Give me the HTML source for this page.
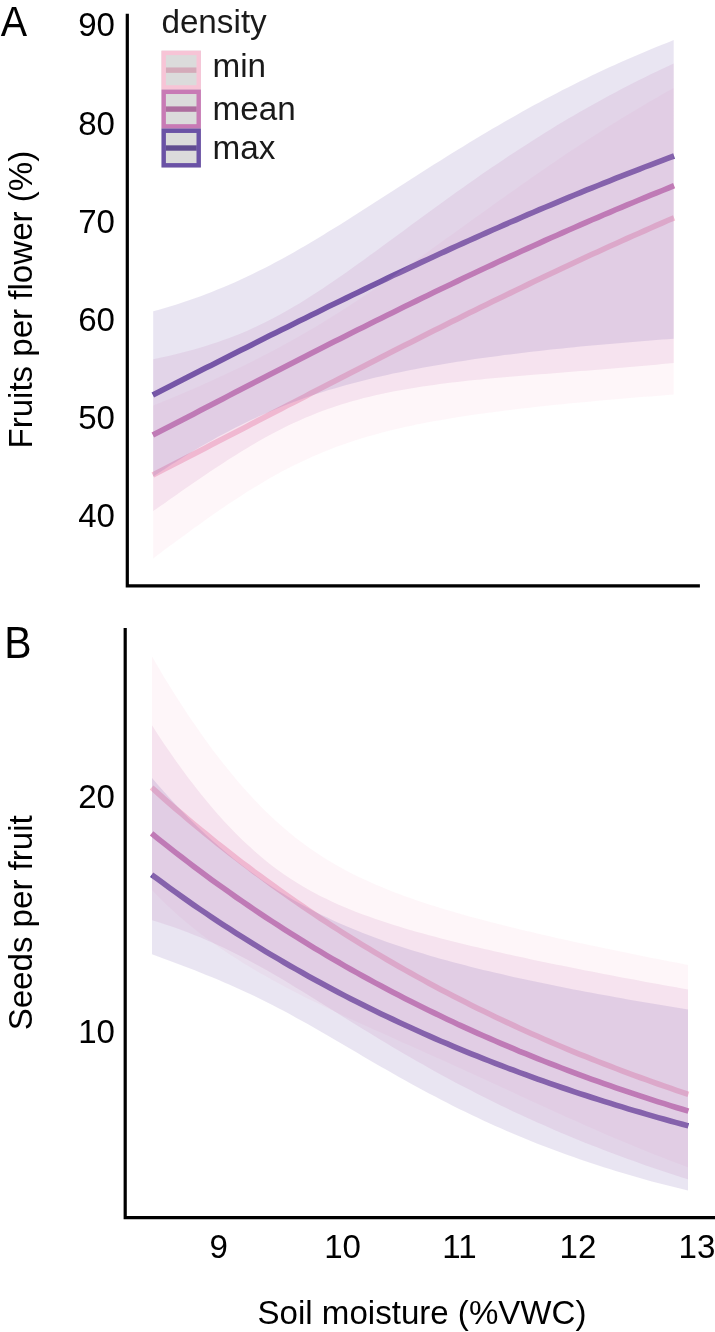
<!DOCTYPE html>
<html><head><meta charset="utf-8"><title>Figure</title>
<style>
html,body{margin:0;padding:0;background:#fff;}
body{width:715px;height:1332px;overflow:hidden;}
svg{display:block;font-family:"Liberation Sans",sans-serif;will-change:transform;}
</style></head><body>
<svg width="715" height="1332" viewBox="0 0 715 1332">
<rect width="715" height="1332" fill="#fff"/>
<path d="M152.8,474.9 L158.7,471.9 L164.5,469.0 L170.4,465.9 L176.2,462.9 L182.1,459.9 L187.9,456.9 L193.8,453.9 L199.7,450.9 L205.5,447.9 L211.4,444.8 L217.2,441.8 L223.1,438.8 L228.9,435.8 L234.8,432.7 L240.7,429.7 L246.5,426.7 L252.4,423.6 L258.2,420.6 L264.1,417.6 L269.9,414.5 L275.8,411.5 L281.7,408.5 L287.5,405.4 L293.4,402.4 L299.2,399.4 L305.1,396.4 L310.9,393.3 L316.8,390.3 L322.7,387.3 L328.5,384.3 L334.4,381.3 L340.2,378.2 L346.1,375.2 L351.9,372.2 L357.8,369.2 L363.7,366.2 L369.5,363.2 L375.4,360.2 L381.2,357.2 L387.1,354.3 L392.9,351.3 L398.8,348.3 L404.7,345.3 L410.5,342.4 L416.4,339.4 L422.2,336.5 L428.1,333.5 L434.0,330.6 L439.8,327.7 L445.7,324.7 L451.5,321.8 L457.4,318.9 L463.2,316.0 L469.1,313.1 L475.0,310.2 L480.8,307.3 L486.7,304.5 L492.5,301.6 L498.4,298.7 L504.2,295.9 L510.1,293.1 L516.0,290.2 L521.8,287.4 L527.7,284.6 L533.5,281.8 L539.4,279.0 L545.2,276.2 L551.1,273.5 L557.0,270.7 L562.8,267.9 L568.7,265.2 L574.5,262.5 L580.4,259.7 L586.2,257.0 L592.1,254.3 L598.0,251.7 L603.8,249.0 L609.7,246.3 L615.5,243.7 L621.4,241.0 L627.2,238.4 L633.1,235.8 L639.0,233.2 L644.8,230.6 L650.7,228.0 L656.5,225.4 L662.4,222.9 L668.2,220.3 L674.1,217.8" fill="none" stroke="#F7C4D6" stroke-opacity="1.0" stroke-width="5.6" stroke-linecap="butt"/>
<path d="M152.8,435.1 L158.7,432.1 L164.5,429.1 L170.4,426.0 L176.2,423.0 L182.1,419.9 L187.9,416.9 L193.8,413.9 L199.7,410.8 L205.5,407.8 L211.4,404.8 L217.2,401.7 L223.1,398.7 L228.9,395.6 L234.8,392.6 L240.7,389.6 L246.5,386.6 L252.4,383.5 L258.2,380.5 L264.1,377.5 L269.9,374.5 L275.8,371.5 L281.7,368.5 L287.5,365.5 L293.4,362.5 L299.2,359.5 L305.1,356.5 L310.9,353.5 L316.8,350.5 L322.7,347.6 L328.5,344.6 L334.4,341.6 L340.2,338.7 L346.1,335.7 L351.9,332.8 L357.8,329.8 L363.7,326.9 L369.5,324.0 L375.4,321.1 L381.2,318.2 L387.1,315.3 L392.9,312.4 L398.8,309.5 L404.7,306.6 L410.5,303.7 L416.4,300.9 L422.2,298.0 L428.1,295.2 L434.0,292.3 L439.8,289.5 L445.7,286.7 L451.5,283.9 L457.4,281.1 L463.2,278.3 L469.1,275.5 L475.0,272.8 L480.8,270.0 L486.7,267.3 L492.5,264.6 L498.4,261.8 L504.2,259.1 L510.1,256.4 L516.0,253.7 L521.8,251.0 L527.7,248.4 L533.5,245.7 L539.4,243.1 L545.2,240.4 L551.1,237.8 L557.0,235.2 L562.8,232.6 L568.7,230.0 L574.5,227.5 L580.4,224.9 L586.2,222.4 L592.1,219.8 L598.0,217.3 L603.8,214.8 L609.7,212.3 L615.5,209.8 L621.4,207.4 L627.2,204.9 L633.1,202.5 L639.0,200.0 L644.8,197.6 L650.7,195.2 L656.5,192.8 L662.4,190.5 L668.2,188.1 L674.1,185.7" fill="none" stroke="#C87AB5" stroke-opacity="1.0" stroke-width="5.6" stroke-linecap="butt"/>
<path d="M152.8,395.0 L158.7,392.0 L164.5,389.1 L170.4,386.1 L176.2,383.1 L182.1,380.1 L187.9,377.1 L193.8,374.1 L199.7,371.1 L205.5,368.1 L211.4,365.2 L217.2,362.2 L223.1,359.2 L228.9,356.3 L234.8,353.3 L240.7,350.3 L246.5,347.4 L252.4,344.4 L258.2,341.5 L264.1,338.6 L269.9,335.6 L275.8,332.7 L281.7,329.8 L287.5,326.9 L293.4,324.0 L299.2,321.1 L305.1,318.2 L310.9,315.3 L316.8,312.4 L322.7,309.5 L328.5,306.6 L334.4,303.8 L340.2,300.9 L346.1,298.1 L351.9,295.3 L357.8,292.4 L363.7,289.6 L369.5,286.8 L375.4,284.0 L381.2,281.2 L387.1,278.4 L392.9,275.6 L398.8,272.9 L404.7,270.1 L410.5,267.4 L416.4,264.6 L422.2,261.9 L428.1,259.2 L434.0,256.5 L439.8,253.8 L445.7,251.1 L451.5,248.4 L457.4,245.8 L463.2,243.1 L469.1,240.5 L475.0,237.9 L480.8,235.2 L486.7,232.6 L492.5,230.0 L498.4,227.5 L504.2,224.9 L510.1,222.3 L516.0,219.8 L521.8,217.2 L527.7,214.7 L533.5,212.2 L539.4,209.7 L545.2,207.2 L551.1,204.8 L557.0,202.3 L562.8,199.9 L568.7,197.4 L574.5,195.0 L580.4,192.6 L586.2,190.2 L592.1,187.8 L598.0,185.5 L603.8,183.1 L609.7,180.8 L615.5,178.4 L621.4,176.1 L627.2,173.8 L633.1,171.6 L639.0,169.3 L644.8,167.0 L650.7,164.8 L656.5,162.6 L662.4,160.3 L668.2,158.1 L674.1,156.0" fill="none" stroke="#6A52A5" stroke-opacity="1.0" stroke-width="5.6" stroke-linecap="butt"/>
<path d="M153.2,405.6 L159.0,403.2 L164.9,400.8 L170.7,398.4 L176.6,395.9 L182.4,393.4 L188.3,390.9 L194.1,388.4 L200.0,385.9 L205.8,383.3 L211.7,380.7 L217.5,378.0 L223.4,375.3 L229.2,372.6 L235.1,369.8 L240.9,367.0 L246.8,364.2 L252.6,361.3 L258.5,358.3 L264.3,355.3 L270.2,352.3 L276.0,349.2 L281.9,346.0 L287.7,342.8 L293.6,339.5 L299.4,336.2 L305.3,332.8 L311.1,329.4 L317.0,325.9 L322.8,322.4 L328.6,318.8 L334.5,315.2 L340.3,311.5 L346.2,307.8 L352.0,304.0 L357.9,300.2 L363.7,296.3 L369.6,292.4 L375.4,288.5 L381.3,284.5 L387.1,280.5 L393.0,276.4 L398.8,272.4 L404.7,268.3 L410.5,264.2 L416.4,260.0 L422.2,255.9 L428.1,251.7 L433.9,247.5 L439.8,243.3 L445.6,239.1 L451.5,234.9 L457.3,230.7 L463.2,226.5 L469.0,222.3 L474.9,218.1 L480.7,213.9 L486.6,209.7 L492.4,205.5 L498.3,201.3 L504.1,197.2 L509.9,193.0 L515.8,188.9 L521.6,184.8 L527.5,180.7 L533.3,176.6 L539.2,172.5 L545.0,168.5 L550.9,164.5 L556.7,160.5 L562.6,156.6 L568.4,152.6 L574.3,148.7 L580.1,144.9 L586.0,141.1 L591.8,137.3 L597.7,133.5 L603.5,129.8 L609.4,126.1 L615.2,122.4 L621.1,118.8 L626.9,115.2 L632.8,111.7 L638.6,108.2 L644.5,104.7 L650.3,101.3 L656.2,97.9 L662.0,94.5 L667.9,91.2 L673.7,88.0 L673.7,394.5 L667.9,395.0 L662.0,395.4 L656.2,395.9 L650.3,396.4 L644.5,396.8 L638.6,397.3 L632.8,397.8 L626.9,398.3 L621.1,398.8 L615.2,399.3 L609.4,399.8 L603.5,400.3 L597.7,400.8 L591.8,401.4 L586.0,401.9 L580.1,402.5 L574.3,403.0 L568.4,403.6 L562.6,404.2 L556.7,404.7 L550.9,405.3 L545.0,406.0 L539.2,406.6 L533.3,407.2 L527.5,407.9 L521.6,408.5 L515.8,409.2 L509.9,409.9 L504.1,410.7 L498.3,411.4 L492.4,412.2 L486.6,412.9 L480.7,413.7 L474.9,414.6 L469.0,415.4 L463.2,416.3 L457.3,417.2 L451.5,418.2 L445.6,419.2 L439.8,420.2 L433.9,421.2 L428.1,422.3 L422.2,423.4 L416.4,424.6 L410.5,425.9 L404.7,427.1 L398.8,428.5 L393.0,429.8 L387.1,431.3 L381.3,432.8 L375.4,434.4 L369.6,436.0 L363.7,437.8 L357.9,439.6 L352.0,441.4 L346.2,443.4 L340.3,445.5 L334.5,447.6 L328.6,449.9 L322.8,452.2 L317.0,454.7 L311.1,457.2 L305.3,459.9 L299.4,462.7 L293.6,465.5 L287.7,468.5 L281.9,471.6 L276.0,474.8 L270.2,478.1 L264.3,481.4 L258.5,484.9 L252.6,488.5 L246.8,492.1 L240.9,495.9 L235.1,499.7 L229.2,503.6 L223.4,507.5 L217.5,511.5 L211.7,515.6 L205.8,519.7 L200.0,523.9 L194.1,528.1 L188.3,532.4 L182.4,536.7 L176.6,541.0 L170.7,545.3 L164.9,549.6 L159.0,554.0 L153.2,558.4Z" fill="#F7C4D6" fill-opacity="0.15"/>
<path d="M153.2,359.2 L159.0,357.9 L164.9,356.7 L170.7,355.4 L176.6,354.0 L182.4,352.5 L188.3,351.0 L194.1,349.4 L200.0,347.7 L205.8,346.0 L211.7,344.1 L217.5,342.2 L223.4,340.1 L229.2,338.0 L235.1,335.7 L240.9,333.4 L246.8,330.9 L252.6,328.3 L258.5,325.6 L264.3,322.7 L270.2,319.8 L276.0,316.7 L281.9,313.5 L287.7,310.2 L293.6,306.8 L299.4,303.4 L305.3,299.8 L311.1,296.1 L317.0,292.3 L322.8,288.4 L328.6,284.5 L334.5,280.5 L340.3,276.5 L346.2,272.4 L352.0,268.3 L357.9,264.1 L363.7,259.9 L369.6,255.6 L375.4,251.4 L381.3,247.1 L387.1,242.8 L393.0,238.5 L398.8,234.2 L404.7,229.9 L410.5,225.6 L416.4,221.3 L422.2,217.0 L428.1,212.7 L433.9,208.4 L439.8,204.2 L445.6,200.0 L451.5,195.8 L457.3,191.6 L463.2,187.4 L469.0,183.3 L474.9,179.2 L480.7,175.1 L486.6,171.1 L492.4,167.1 L498.3,163.2 L504.1,159.2 L509.9,155.3 L515.8,151.5 L521.6,147.7 L527.5,143.9 L533.3,140.2 L539.2,136.5 L545.0,132.8 L550.9,129.2 L556.7,125.6 L562.6,122.1 L568.4,118.6 L574.3,115.2 L580.1,111.8 L586.0,108.5 L591.8,105.2 L597.7,101.9 L603.5,98.7 L609.4,95.5 L615.2,92.4 L621.1,89.3 L626.9,86.2 L632.8,83.2 L638.6,80.3 L644.5,77.4 L650.3,74.5 L656.2,71.7 L662.0,68.9 L667.9,66.2 L673.7,63.5 L673.7,362.9 L667.9,363.5 L662.0,364.1 L656.2,364.7 L650.3,365.2 L644.5,365.8 L638.6,366.3 L632.8,366.8 L626.9,367.3 L621.1,367.8 L615.2,368.3 L609.4,368.8 L603.5,369.3 L597.7,369.7 L591.8,370.2 L586.0,370.7 L580.1,371.1 L574.3,371.6 L568.4,372.0 L562.6,372.5 L556.7,372.9 L550.9,373.4 L545.0,373.9 L539.2,374.3 L533.3,374.8 L527.5,375.3 L521.6,375.7 L515.8,376.2 L509.9,376.7 L504.1,377.2 L498.3,377.8 L492.4,378.3 L486.6,378.8 L480.7,379.4 L474.9,380.0 L469.0,380.6 L463.2,381.3 L457.3,381.9 L451.5,382.6 L445.6,383.3 L439.8,384.1 L433.9,384.9 L428.1,385.7 L422.2,386.5 L416.4,387.4 L410.5,388.4 L404.7,389.4 L398.8,390.5 L393.0,391.6 L387.1,392.7 L381.3,394.0 L375.4,395.3 L369.6,396.7 L363.7,398.1 L357.9,399.7 L352.0,401.3 L346.2,403.0 L340.3,404.8 L334.5,406.7 L328.6,408.7 L322.8,410.8 L317.0,413.0 L311.1,415.4 L305.3,417.8 L299.4,420.4 L293.6,423.0 L287.7,425.8 L281.9,428.7 L276.0,431.7 L270.2,434.8 L264.3,438.0 L258.5,441.3 L252.6,444.7 L246.8,448.2 L240.9,451.7 L235.1,455.4 L229.2,459.1 L223.4,462.9 L217.5,466.7 L211.7,470.6 L205.8,474.6 L200.0,478.5 L194.1,482.5 L188.3,486.6 L182.4,490.6 L176.6,494.7 L170.7,498.8 L164.9,502.9 L159.0,507.0 L153.2,511.1Z" fill="#C87AB5" fill-opacity="0.15"/>
<path d="M153.2,311.3 L159.0,309.7 L164.9,308.0 L170.7,306.2 L176.6,304.4 L182.4,302.5 L188.3,300.5 L194.1,298.5 L200.0,296.4 L205.8,294.2 L211.7,291.9 L217.5,289.6 L223.4,287.2 L229.2,284.7 L235.1,282.2 L240.9,279.5 L246.8,276.8 L252.6,274.0 L258.5,271.1 L264.3,268.2 L270.2,265.2 L276.0,262.1 L281.9,258.9 L287.7,255.7 L293.6,252.4 L299.4,249.1 L305.3,245.7 L311.1,242.2 L317.0,238.7 L322.8,235.2 L328.6,231.6 L334.5,228.0 L340.3,224.4 L346.2,220.7 L352.0,217.0 L357.9,213.3 L363.7,209.5 L369.6,205.8 L375.4,202.0 L381.3,198.3 L387.1,194.5 L393.0,190.7 L398.8,187.0 L404.7,183.2 L410.5,179.5 L416.4,175.7 L422.2,172.0 L428.1,168.3 L433.9,164.6 L439.8,160.9 L445.6,157.2 L451.5,153.6 L457.3,150.0 L463.2,146.4 L469.0,142.8 L474.9,139.3 L480.7,135.8 L486.6,132.3 L492.4,128.8 L498.3,125.4 L504.1,122.0 L509.9,118.7 L515.8,115.4 L521.6,112.1 L527.5,108.8 L533.3,105.6 L539.2,102.5 L545.0,99.3 L550.9,96.2 L556.7,93.2 L562.6,90.1 L568.4,87.2 L574.3,84.2 L580.1,81.3 L586.0,78.4 L591.8,75.6 L597.7,72.8 L603.5,70.1 L609.4,67.3 L615.2,64.7 L621.1,62.0 L626.9,59.4 L632.8,56.9 L638.6,54.4 L644.5,51.9 L650.3,49.5 L656.2,47.0 L662.0,44.7 L667.9,42.4 L673.7,40.1 L673.7,338.8 L667.9,339.2 L662.0,339.6 L656.2,340.1 L650.3,340.5 L644.5,341.0 L638.6,341.4 L632.8,341.9 L626.9,342.4 L621.1,342.9 L615.2,343.4 L609.4,343.9 L603.5,344.4 L597.7,344.9 L591.8,345.5 L586.0,346.0 L580.1,346.6 L574.3,347.2 L568.4,347.8 L562.6,348.4 L556.7,349.0 L550.9,349.6 L545.0,350.2 L539.2,350.9 L533.3,351.6 L527.5,352.2 L521.6,352.9 L515.8,353.7 L509.9,354.4 L504.1,355.1 L498.3,355.9 L492.4,356.7 L486.6,357.5 L480.7,358.3 L474.9,359.1 L469.0,360.0 L463.2,360.9 L457.3,361.8 L451.5,362.7 L445.6,363.7 L439.8,364.7 L433.9,365.7 L428.1,366.7 L422.2,367.8 L416.4,368.9 L410.5,370.0 L404.7,371.2 L398.8,372.4 L393.0,373.6 L387.1,374.9 L381.3,376.2 L375.4,377.6 L369.6,379.0 L363.7,380.4 L357.9,381.9 L352.0,383.4 L346.2,385.0 L340.3,386.7 L334.5,388.4 L328.6,390.1 L322.8,392.0 L317.0,393.8 L311.1,395.8 L305.3,397.8 L299.4,399.9 L293.6,402.1 L287.7,404.3 L281.9,406.6 L276.0,409.0 L270.2,411.4 L264.3,414.0 L258.5,416.6 L252.6,419.3 L246.8,422.0 L240.9,424.9 L235.1,427.8 L229.2,430.9 L223.4,433.9 L217.5,437.1 L211.7,440.4 L205.8,443.7 L200.0,447.1 L194.1,450.6 L188.3,454.1 L182.4,457.7 L176.6,461.4 L170.7,465.1 L164.9,468.9 L159.0,472.7 L153.2,476.6Z" fill="#6A52A5" fill-opacity="0.15"/>
<path d="M127.3,13.7 V585.8 H699.9" fill="none" stroke="#000" stroke-width="3.2" stroke-linejoin="miter" stroke-linecap="butt"/>
<text x="115.0" y="36.35" font-size="33.1" text-anchor="end" fill="#000" >90</text>
<text x="115.0" y="134.5" font-size="33.1" text-anchor="end" fill="#000" >80</text>
<text x="115.0" y="232.6" font-size="33.1" text-anchor="end" fill="#000" >70</text>
<text x="115.0" y="330.7" font-size="33.1" text-anchor="end" fill="#000" >60</text>
<text x="115.0" y="428.9" font-size="33.1" text-anchor="end" fill="#000" >50</text>
<text x="115.0" y="527.0" font-size="33.1" text-anchor="end" fill="#000" >40</text>
<text x="0" y="0" font-size="33.1" text-anchor="middle" fill="#000" transform="translate(32.3,299.7) rotate(-90)">Fruits per flower (%)</text>
<text x="0" y="0" font-size="39.5" text-anchor="start" fill="#000" transform="translate(0.7,36.0) scale(1,1.095)">A</text>
<text x="161.4" y="33.2" font-size="33.25" text-anchor="start" fill="#1a1a1a" >density</text>
<path d="M165.6,70.165 H196.8" stroke="#F7C4D6" stroke-width="5.4"/>
<rect x="161.5" y="50.7" width="39.4" height="38.93" fill="#333333" fill-opacity="0.175"/>
<rect x="163.7" y="52.900000000000006" width="35.0" height="34.53" fill="none" stroke="#F7C4D6" stroke-width="4.4"/>
<text x="212.5" y="77.3" font-size="33.25" text-anchor="start" fill="#1a1a1a" >min</text>
<path d="M165.6,109.095 H196.8" stroke="#C87AB5" stroke-width="5.4"/>
<rect x="161.5" y="89.63" width="39.4" height="38.93" fill="#333333" fill-opacity="0.175"/>
<rect x="163.7" y="91.83" width="35.0" height="34.53" fill="none" stroke="#C87AB5" stroke-width="4.4"/>
<text x="212.5" y="119.7" font-size="33.25" text-anchor="start" fill="#1a1a1a" >mean</text>
<path d="M165.6,148.025 H196.8" stroke="#6A52A5" stroke-width="5.4"/>
<rect x="161.5" y="128.56" width="39.4" height="38.93" fill="#333333" fill-opacity="0.175"/>
<rect x="163.7" y="130.76" width="35.0" height="34.53" fill="none" stroke="#6A52A5" stroke-width="4.4"/>
<text x="212.5" y="158.5" font-size="33.25" text-anchor="start" fill="#1a1a1a" >max</text>
<path d="M151.6,787.5 L157.6,792.9 L163.7,798.3 L169.7,803.6 L175.7,808.8 L181.8,813.9 L187.8,819.1 L193.8,824.1 L199.9,829.1 L205.9,834.0 L211.9,838.9 L217.9,843.8 L224.0,848.5 L230.0,853.3 L236.0,857.9 L242.1,862.6 L248.1,867.1 L254.1,871.7 L260.2,876.1 L266.2,880.6 L272.2,884.9 L278.3,889.3 L284.3,893.5 L290.3,897.8 L296.4,902.0 L302.4,906.1 L308.4,910.2 L314.4,914.3 L320.5,918.3 L326.5,922.2 L332.5,926.1 L338.6,930.0 L344.6,933.8 L350.6,937.6 L356.7,941.4 L362.7,945.1 L368.7,948.7 L374.8,952.4 L380.8,955.9 L386.8,959.5 L392.9,963.0 L398.9,966.5 L404.9,969.9 L411.0,973.3 L417.0,976.6 L423.0,979.9 L429.0,983.2 L435.1,986.5 L441.1,989.7 L447.1,992.8 L453.2,996.0 L459.2,999.1 L465.2,1002.1 L471.3,1005.2 L477.3,1008.2 L483.3,1011.1 L489.4,1014.0 L495.4,1016.9 L501.4,1019.8 L507.5,1022.6 L513.5,1025.4 L519.5,1028.2 L525.6,1031.0 L531.6,1033.7 L537.6,1036.3 L543.6,1039.0 L549.7,1041.6 L555.7,1044.2 L561.7,1046.8 L567.8,1049.3 L573.8,1051.8 L579.8,1054.3 L585.9,1056.7 L591.9,1059.1 L597.9,1061.5 L604.0,1063.9 L610.0,1066.2 L616.0,1068.5 L622.1,1070.8 L628.1,1073.1 L634.1,1075.3 L640.1,1077.5 L646.2,1079.7 L652.2,1081.9 L658.2,1084.0 L664.3,1086.1 L670.3,1088.2 L676.3,1090.3 L682.4,1092.3 L688.4,1094.4" fill="none" stroke="#F7C4D6" stroke-opacity="1.0" stroke-width="5.6" stroke-linecap="butt"/>
<path d="M151.6,833.4 L157.6,838.3 L163.7,843.1 L169.7,847.9 L175.7,852.6 L181.8,857.3 L187.8,861.9 L193.8,866.5 L199.9,871.0 L205.9,875.4 L211.9,879.9 L217.9,884.2 L224.0,888.6 L230.0,892.8 L236.0,897.1 L242.1,901.3 L248.1,905.4 L254.1,909.5 L260.2,913.6 L266.2,917.6 L272.2,921.5 L278.3,925.4 L284.3,929.3 L290.3,933.1 L296.4,936.9 L302.4,940.7 L308.4,944.4 L314.4,948.1 L320.5,951.7 L326.5,955.3 L332.5,958.8 L338.6,962.3 L344.6,965.8 L350.6,969.2 L356.7,972.6 L362.7,976.0 L368.7,979.3 L374.8,982.6 L380.8,985.8 L386.8,989.0 L392.9,992.2 L398.9,995.3 L404.9,998.4 L411.0,1001.5 L417.0,1004.5 L423.0,1007.5 L429.0,1010.5 L435.1,1013.4 L441.1,1016.3 L447.1,1019.2 L453.2,1022.0 L459.2,1024.9 L465.2,1027.6 L471.3,1030.4 L477.3,1033.1 L483.3,1035.8 L489.4,1038.4 L495.4,1041.0 L501.4,1043.6 L507.5,1046.2 L513.5,1048.7 L519.5,1051.3 L525.6,1053.7 L531.6,1056.2 L537.6,1058.6 L543.6,1061.0 L549.7,1063.4 L555.7,1065.7 L561.7,1068.0 L567.8,1070.3 L573.8,1072.6 L579.8,1074.9 L585.9,1077.1 L591.9,1079.3 L597.9,1081.4 L604.0,1083.6 L610.0,1085.7 L616.0,1087.8 L622.1,1089.9 L628.1,1091.9 L634.1,1093.9 L640.1,1095.9 L646.2,1097.9 L652.2,1099.9 L658.2,1101.8 L664.3,1103.7 L670.3,1105.6 L676.3,1107.5 L682.4,1109.3 L688.4,1111.2" fill="none" stroke="#C87AB5" stroke-opacity="1.0" stroke-width="5.6" stroke-linecap="butt"/>
<path d="M151.6,874.7 L157.6,879.1 L163.7,883.6 L169.7,888.0 L175.7,892.3 L181.8,896.6 L187.8,900.9 L193.8,905.1 L199.9,909.2 L205.9,913.3 L211.9,917.3 L217.9,921.4 L224.0,925.3 L230.0,929.2 L236.0,933.1 L242.1,936.9 L248.1,940.7 L254.1,944.4 L260.2,948.1 L266.2,951.8 L272.2,955.4 L278.3,958.9 L284.3,962.5 L290.3,966.0 L296.4,969.4 L302.4,972.8 L308.4,976.2 L314.4,979.5 L320.5,982.8 L326.5,986.0 L332.5,989.2 L338.6,992.4 L344.6,995.6 L350.6,998.7 L356.7,1001.7 L362.7,1004.8 L368.7,1007.8 L374.8,1010.7 L380.8,1013.7 L386.8,1016.6 L392.9,1019.4 L398.9,1022.2 L404.9,1025.0 L411.0,1027.8 L417.0,1030.5 L423.0,1033.2 L429.0,1035.9 L435.1,1038.6 L441.1,1041.2 L447.1,1043.7 L453.2,1046.3 L459.2,1048.8 L465.2,1051.3 L471.3,1053.8 L477.3,1056.2 L483.3,1058.6 L489.4,1061.0 L495.4,1063.3 L501.4,1065.7 L507.5,1068.0 L513.5,1070.2 L519.5,1072.5 L525.6,1074.7 L531.6,1076.9 L537.6,1079.1 L543.6,1081.2 L549.7,1083.3 L555.7,1085.4 L561.7,1087.5 L567.8,1089.5 L573.8,1091.6 L579.8,1093.6 L585.9,1095.5 L591.9,1097.5 L597.9,1099.4 L604.0,1101.3 L610.0,1103.2 L616.0,1105.1 L622.1,1106.9 L628.1,1108.8 L634.1,1110.6 L640.1,1112.3 L646.2,1114.1 L652.2,1115.9 L658.2,1117.6 L664.3,1119.3 L670.3,1121.0 L676.3,1122.6 L682.4,1124.3 L688.4,1125.9" fill="none" stroke="#6A52A5" stroke-opacity="1.0" stroke-width="5.6" stroke-linecap="butt"/>
<path d="M152.0,656.5 L158.0,666.8 L164.0,676.9 L170.1,686.8 L176.1,696.4 L182.1,705.8 L188.1,714.9 L194.2,723.8 L200.2,732.5 L206.2,741.0 L212.2,749.2 L218.2,757.1 L224.3,764.8 L230.3,772.3 L236.3,779.5 L242.3,786.5 L248.4,793.2 L254.4,799.7 L260.4,806.0 L266.4,812.0 L272.4,817.7 L278.5,823.2 L284.5,828.5 L290.5,833.6 L296.5,838.4 L302.6,843.0 L308.6,847.4 L314.6,851.6 L320.6,855.6 L326.7,859.4 L332.7,863.0 L338.7,866.5 L344.7,869.8 L350.7,872.9 L356.8,875.9 L362.8,878.8 L368.8,881.6 L374.8,884.3 L380.9,886.8 L386.9,889.3 L392.9,891.7 L398.9,894.0 L404.9,896.2 L411.0,898.3 L417.0,900.4 L423.0,902.4 L429.0,904.4 L435.1,906.3 L441.1,908.2 L447.1,910.0 L453.1,911.8 L459.1,913.5 L465.2,915.2 L471.2,916.9 L477.2,918.5 L483.2,920.1 L489.3,921.7 L495.3,923.3 L501.3,924.8 L507.3,926.3 L513.3,927.8 L519.4,929.2 L525.4,930.7 L531.4,932.1 L537.4,933.5 L543.5,934.9 L549.5,936.3 L555.5,937.7 L561.5,939.0 L567.6,940.3 L573.6,941.7 L579.6,943.0 L585.6,944.3 L591.6,945.5 L597.7,946.8 L603.7,948.1 L609.7,949.3 L615.7,950.6 L621.8,951.8 L627.8,953.1 L633.8,954.3 L639.8,955.5 L645.8,956.7 L651.9,957.9 L657.9,959.1 L663.9,960.3 L669.9,961.4 L676.0,962.6 L682.0,963.8 L688.0,964.9 L688.0,1167.2 L682.0,1165.0 L676.0,1162.7 L669.9,1160.4 L663.9,1158.1 L657.9,1155.8 L651.9,1153.4 L645.8,1151.0 L639.8,1148.6 L633.8,1146.1 L627.8,1143.6 L621.8,1141.1 L615.7,1138.6 L609.7,1136.0 L603.7,1133.4 L597.7,1130.8 L591.6,1128.1 L585.6,1125.5 L579.6,1122.8 L573.6,1120.1 L567.6,1117.4 L561.5,1114.7 L555.5,1112.0 L549.5,1109.2 L543.5,1106.5 L537.4,1103.7 L531.4,1101.0 L525.4,1098.2 L519.4,1095.4 L513.3,1092.6 L507.3,1089.8 L501.3,1087.1 L495.3,1084.3 L489.3,1081.5 L483.2,1078.8 L477.2,1076.0 L471.2,1073.2 L465.2,1070.5 L459.1,1067.8 L453.1,1065.0 L447.1,1062.3 L441.1,1059.6 L435.1,1056.9 L429.0,1054.2 L423.0,1051.5 L417.0,1048.8 L411.0,1046.1 L404.9,1043.4 L398.9,1040.7 L392.9,1038.0 L386.9,1035.3 L380.9,1032.6 L374.8,1029.9 L368.8,1027.2 L362.8,1024.5 L356.8,1021.7 L350.7,1018.9 L344.7,1016.2 L338.7,1013.4 L332.7,1010.5 L326.7,1007.7 L320.6,1004.8 L314.6,1001.8 L308.6,998.9 L302.6,995.9 L296.5,992.8 L290.5,989.7 L284.5,986.5 L278.5,983.3 L272.4,980.0 L266.4,976.6 L260.4,973.2 L254.4,969.7 L248.4,966.1 L242.3,962.4 L236.3,958.6 L230.3,954.7 L224.3,950.7 L218.2,946.6 L212.2,942.3 L206.2,937.9 L200.2,933.4 L194.2,928.7 L188.1,923.8 L182.1,918.7 L176.1,913.5 L170.1,908.0 L164.0,902.3 L158.0,896.3 L152.0,890.1Z" fill="#F7C4D6" fill-opacity="0.15"/>
<path d="M152.0,725.3 L158.0,734.7 L164.0,743.7 L170.1,752.6 L176.1,761.2 L182.1,769.5 L188.1,777.7 L194.2,785.6 L200.2,793.2 L206.2,800.6 L212.2,807.8 L218.2,814.7 L224.3,821.4 L230.3,827.8 L236.3,834.0 L242.3,839.9 L248.4,845.6 L254.4,851.1 L260.4,856.3 L266.4,861.2 L272.4,865.9 L278.5,870.4 L284.5,874.7 L290.5,878.7 L296.5,882.6 L302.6,886.3 L308.6,889.7 L314.6,893.0 L320.6,896.2 L326.7,899.1 L332.7,902.0 L338.7,904.7 L344.7,907.3 L350.7,909.8 L356.8,912.2 L362.8,914.4 L368.8,916.6 L374.8,918.8 L380.9,920.8 L386.9,922.8 L392.9,924.7 L398.9,926.6 L404.9,928.4 L411.0,930.2 L417.0,931.9 L423.0,933.6 L429.0,935.2 L435.1,936.8 L441.1,938.4 L447.1,940.0 L453.1,941.5 L459.1,943.0 L465.2,944.5 L471.2,945.9 L477.2,947.3 L483.2,948.7 L489.3,950.1 L495.3,951.5 L501.3,952.8 L507.3,954.2 L513.3,955.5 L519.4,956.8 L525.4,958.1 L531.4,959.4 L537.4,960.7 L543.5,961.9 L549.5,963.2 L555.5,964.4 L561.5,965.6 L567.6,966.8 L573.6,968.0 L579.6,969.2 L585.6,970.4 L591.6,971.6 L597.7,972.8 L603.7,973.9 L609.7,975.1 L615.7,976.2 L621.8,977.4 L627.8,978.5 L633.8,979.6 L639.8,980.7 L645.8,981.9 L651.9,983.0 L657.9,984.1 L663.9,985.2 L669.9,986.3 L676.0,987.3 L682.0,988.4 L688.0,989.5 L688.0,1179.3 L682.0,1177.4 L676.0,1175.5 L669.9,1173.5 L663.9,1171.5 L657.9,1169.5 L651.9,1167.5 L645.8,1165.4 L639.8,1163.3 L633.8,1161.1 L627.8,1159.0 L621.8,1156.8 L615.7,1154.5 L609.7,1152.3 L603.7,1150.0 L597.7,1147.6 L591.6,1145.3 L585.6,1142.9 L579.6,1140.5 L573.6,1138.0 L567.6,1135.5 L561.5,1133.0 L555.5,1130.4 L549.5,1127.8 L543.5,1125.1 L537.4,1122.5 L531.4,1119.8 L525.4,1117.0 L519.4,1114.2 L513.3,1111.4 L507.3,1108.6 L501.3,1105.7 L495.3,1102.7 L489.3,1099.8 L483.2,1096.8 L477.2,1093.7 L471.2,1090.6 L465.2,1087.5 L459.1,1084.4 L453.1,1081.2 L447.1,1077.9 L441.1,1074.7 L435.1,1071.4 L429.0,1068.0 L423.0,1064.6 L417.0,1061.2 L411.0,1057.7 L404.9,1054.3 L398.9,1050.7 L392.9,1047.2 L386.9,1043.6 L380.9,1040.0 L374.8,1036.3 L368.8,1032.6 L362.8,1028.9 L356.8,1025.2 L350.7,1021.5 L344.7,1017.8 L338.7,1014.0 L332.7,1010.2 L326.7,1006.5 L320.6,1002.7 L314.6,999.0 L308.6,995.3 L302.6,991.5 L296.5,987.9 L290.5,984.2 L284.5,980.6 L278.5,977.0 L272.4,973.5 L266.4,970.1 L260.4,966.7 L254.4,963.4 L248.4,960.2 L242.3,957.0 L236.3,953.9 L230.3,950.9 L224.3,948.0 L218.2,945.2 L212.2,942.5 L206.2,939.9 L200.2,937.3 L194.2,934.9 L188.1,932.5 L182.1,930.2 L176.1,928.1 L170.1,926.0 L164.0,923.9 L158.0,922.0 L152.0,920.2Z" fill="#C87AB5" fill-opacity="0.15"/>
<path d="M152.0,778.0 L158.0,784.9 L164.0,791.8 L170.1,798.4 L176.1,804.9 L182.1,811.2 L188.1,817.4 L194.2,823.4 L200.2,829.2 L206.2,834.9 L212.2,840.4 L218.2,845.8 L224.3,851.0 L230.3,856.0 L236.3,860.9 L242.3,865.6 L248.4,870.2 L254.4,874.6 L260.4,878.9 L266.4,883.0 L272.4,887.0 L278.5,890.9 L284.5,894.6 L290.5,898.2 L296.5,901.7 L302.6,905.0 L308.6,908.3 L314.6,911.4 L320.6,914.4 L326.7,917.3 L332.7,920.2 L338.7,922.9 L344.7,925.5 L350.7,928.1 L356.8,930.6 L362.8,933.0 L368.8,935.3 L374.8,937.6 L380.9,939.8 L386.9,941.9 L392.9,944.0 L398.9,946.0 L404.9,948.0 L411.0,949.9 L417.0,951.8 L423.0,953.6 L429.0,955.4 L435.1,957.2 L441.1,958.9 L447.1,960.5 L453.1,962.2 L459.1,963.8 L465.2,965.3 L471.2,966.9 L477.2,968.4 L483.2,969.9 L489.3,971.3 L495.3,972.7 L501.3,974.1 L507.3,975.5 L513.3,976.9 L519.4,978.2 L525.4,979.5 L531.4,980.8 L537.4,982.1 L543.5,983.3 L549.5,984.6 L555.5,985.8 L561.5,987.0 L567.6,988.2 L573.6,989.4 L579.6,990.5 L585.6,991.7 L591.6,992.8 L597.7,993.9 L603.7,995.0 L609.7,996.1 L615.7,997.2 L621.8,998.3 L627.8,999.4 L633.8,1000.4 L639.8,1001.5 L645.8,1002.5 L651.9,1003.5 L657.9,1004.6 L663.9,1005.6 L669.9,1006.6 L676.0,1007.6 L682.0,1008.5 L688.0,1009.5 L688.0,1190.6 L682.0,1189.1 L676.0,1187.6 L669.9,1186.1 L663.9,1184.6 L657.9,1183.0 L651.9,1181.4 L645.8,1179.7 L639.8,1178.1 L633.8,1176.3 L627.8,1174.6 L621.8,1172.8 L615.7,1171.0 L609.7,1169.1 L603.7,1167.2 L597.7,1165.3 L591.6,1163.3 L585.6,1161.3 L579.6,1159.2 L573.6,1157.1 L567.6,1155.0 L561.5,1152.8 L555.5,1150.6 L549.5,1148.3 L543.5,1146.0 L537.4,1143.7 L531.4,1141.3 L525.4,1138.8 L519.4,1136.3 L513.3,1133.8 L507.3,1131.2 L501.3,1128.6 L495.3,1125.9 L489.3,1123.2 L483.2,1120.4 L477.2,1117.6 L471.2,1114.7 L465.2,1111.8 L459.1,1108.9 L453.1,1105.9 L447.1,1102.8 L441.1,1099.7 L435.1,1096.6 L429.0,1093.4 L423.0,1090.2 L417.0,1087.0 L411.0,1083.7 L404.9,1080.3 L398.9,1077.0 L392.9,1073.6 L386.9,1070.1 L380.9,1066.7 L374.8,1063.2 L368.8,1059.7 L362.8,1056.2 L356.8,1052.6 L350.7,1049.1 L344.7,1045.6 L338.7,1042.0 L332.7,1038.5 L326.7,1035.0 L320.6,1031.5 L314.6,1028.1 L308.6,1024.6 L302.6,1021.2 L296.5,1017.9 L290.5,1014.6 L284.5,1011.3 L278.5,1008.2 L272.4,1005.0 L266.4,1002.0 L260.4,999.0 L254.4,996.0 L248.4,993.2 L242.3,990.4 L236.3,987.7 L230.3,985.0 L224.3,982.4 L218.2,979.8 L212.2,977.3 L206.2,974.9 L200.2,972.5 L194.2,970.1 L188.1,967.8 L182.1,965.5 L176.1,963.2 L170.1,960.9 L164.0,958.7 L158.0,956.5 L152.0,954.3Z" fill="#6A52A5" fill-opacity="0.15"/>
<path d="M125.2,628 V1217.7 H716" fill="none" stroke="#000" stroke-width="3.2" stroke-linejoin="miter" stroke-linecap="butt"/>
<text x="115.0" y="807.6999999999999" font-size="33.1" text-anchor="end" fill="#000" >20</text>
<text x="115.0" y="1043.1000000000001" font-size="33.1" text-anchor="end" fill="#000" >10</text>
<text x="218.6" y="1257.7" font-size="33.1" text-anchor="middle" fill="#000" >9</text>
<text x="342.6" y="1257.7" font-size="33.1" text-anchor="middle" fill="#000" >10</text>
<text x="459.5" y="1257.7" font-size="33.1" text-anchor="middle" fill="#000" >11</text>
<text x="578.0" y="1257.7" font-size="33.1" text-anchor="middle" fill="#000" >12</text>
<text x="696.9" y="1257.7" font-size="33.1" text-anchor="middle" fill="#000" >13</text>
<text x="0" y="0" font-size="33.1" text-anchor="middle" fill="#000" transform="translate(32.3,922.8) rotate(-90)">Seeds per fruit</text>
<text x="422" y="1323.6" font-size="33.1" text-anchor="middle" fill="#000" >Soil moisture (%VWC)</text>
<text x="0" y="0" font-size="41" text-anchor="start" fill="#000" transform="translate(4.35,658.4) scale(1,1.085)">B</text>
</svg>
</body></html>
